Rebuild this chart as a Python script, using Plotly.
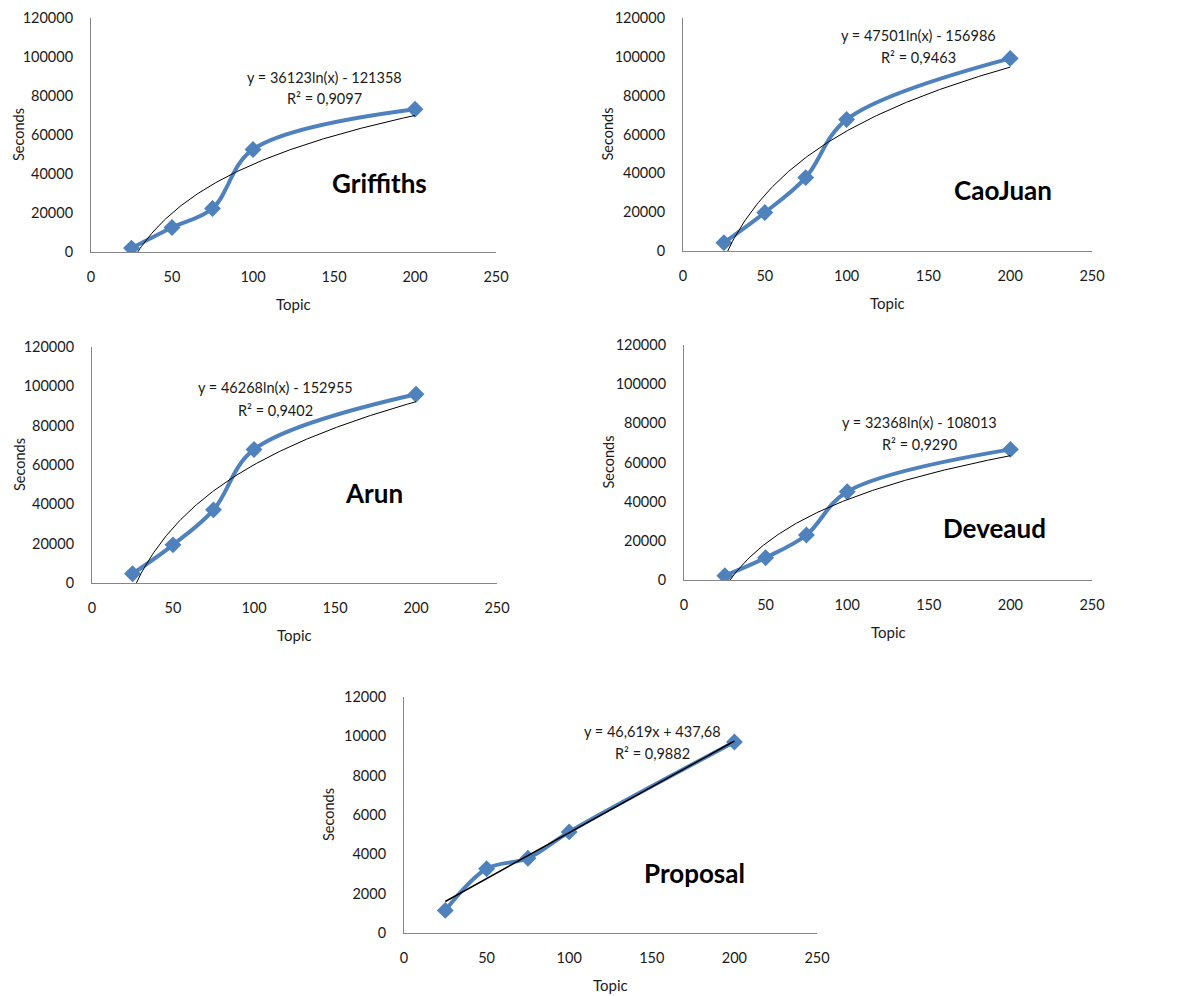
import numpy as np
import plotly.graph_objects as go

OFF = 8  # page body margin of the html wrapper
W, H = 1184 - OFF, 996 - OFF

topics = [25, 50, 75, 100, 200]
griffiths = [2000, 12600, 22300, 52600, 73200]
caojuan = [4300, 19800, 37800, 67700, 99200]
arun = [4700, 19400, 37200, 67900, 96000]
deveaud = [2200, 11400, 23000, 45100, 66700]
proposal = [1150, 3270, 3800, 5140, 9710]

names = ["Griffiths", "CaoJuan", "Arun", "Deveaud", "Proposal"]
series = [griffiths, caojuan, arun, deveaud, proposal]
fit_kind = ["log", "log", "log", "log", "lin"]
fit_a = [36123, 47501, 46268, 32368, 46.619]
fit_b = [-121358, -156986, -152955, -108013, 437.68]
eq_text = ["y = 36123ln(x) - 121358", "y = 47501ln(x) - 156986",
           "y = 46268ln(x) - 152955", "y = 32368ln(x) - 108013",
           "y = 46,619x + 437,68"]
r2_text = ["R² = 0,9097", "R² = 0,9463", "R² = 0,9402", "R² = 0,9290", "R² = 0,9882"]
y_max = [120000, 120000, 120000, 120000, 12000]
y_dtick = [20000, 20000, 20000, 20000, 2000]

# pixel boxes on screen: (left, right, top, bottom)
boxes = [(91, 496, 18, 252), (683, 1092, 18, 251), (92, 497, 347, 583),
         (684, 1092, 345, 580), (404, 817, 697, 933)]
eq_pos = [(324, 77, 99), (918, 35, 58), (275, 388, 410), (919, 422, 444), (652, 731, 753)]
name_pos = [(379, 183), (1003, 190), (374, 493), (994, 528), (694, 873)]

FONT = "Lato"
BLUE = "#4F81BD"
TXT = "#1a1a1a"


def px(x):
    return (x - OFF) / W


def py(y):
    return 1 - (y - OFF) / H


fig = go.Figure()
annotations = []


def ann(x, y, text, size, color=TXT, angle=0):
    return dict(x=px(x), y=py(y), xref="paper", yref="paper", text=text,
                showarrow=False, xanchor="center", yanchor="middle", textangle=angle,
                font=dict(family=FONT, size=size, color=color))


for i in range(5):
    ax = "" if i == 0 else str(i + 1)
    l, r, t, b = boxes[i]
    fig.update_layout(**{
        "xaxis" + ax: dict(domain=[px(l), px(r)], range=[0, 250], dtick=50,
                           showgrid=False, zeroline=False, showline=True,
                           linecolor="#868686", linewidth=1, ticks="", automargin=False,
                           tickfont=dict(family=FONT, size=14.5, color=TXT),
                           ticklabelstandoff=12, anchor="y" + ax, fixedrange=True),
        "yaxis" + ax: dict(domain=[py(b), py(t)], range=[0, y_max[i]],
                           dtick=y_dtick[i], tickformat="d", showgrid=False, zeroline=False,
                           showline=True, linecolor="#868686", linewidth=1, ticks="",
                           automargin=False,
                           tickfont=dict(family=FONT, size=14.5, color=TXT),
                           ticklabelstandoff=14, anchor="x" + ax, fixedrange=True),
    })
    xs = np.linspace(topics[0], topics[-1], 200)
    if fit_kind[i] == "log":
        ys = fit_a[i] * np.log(xs) + fit_b[i]
    else:
        ys = fit_a[i] * xs + fit_b[i]
    fig.add_trace(go.Scatter(x=topics, y=series[i], mode="lines+markers",
                             line=dict(color=BLUE, width=4, shape="spline", smoothing=1),
                             marker=dict(symbol="diamond", size=13, color=BLUE),
                             xaxis="x" + ax, yaxis="y" + ax, showlegend=False))
    fig.add_trace(go.Scatter(x=xs, y=ys, mode="lines",
                             line=dict(color="black", width=1.5 if fit_kind[i] == "lin" else 1),
                             xaxis="x" + ax, yaxis="y" + ax, showlegend=False))
    ex, ey1, ey2 = eq_pos[i]
    annotations.append(ann(ex, ey1, eq_text[i], 14.5))
    annotations.append(ann(ex, ey2, r2_text[i], 14.5))
    nx, ny = name_pos[i]
    annotations.append(ann(nx, ny, "<b>" + names[i] + "</b>", 26, "black"))
    annotations.append(ann(max(l - 76, 19), (t + b) / 2, "Seconds", 14.5, angle=-90))
    annotations.append(ann((l + r) / 2, b + 52, "Topic", 15))

fig.update_layout(width=W, height=H, margin=dict(l=0, r=0, t=0, b=0),
                  paper_bgcolor="white", plot_bgcolor="white",
                  annotations=annotations, showlegend=False)
fig.write_html("out.html")
